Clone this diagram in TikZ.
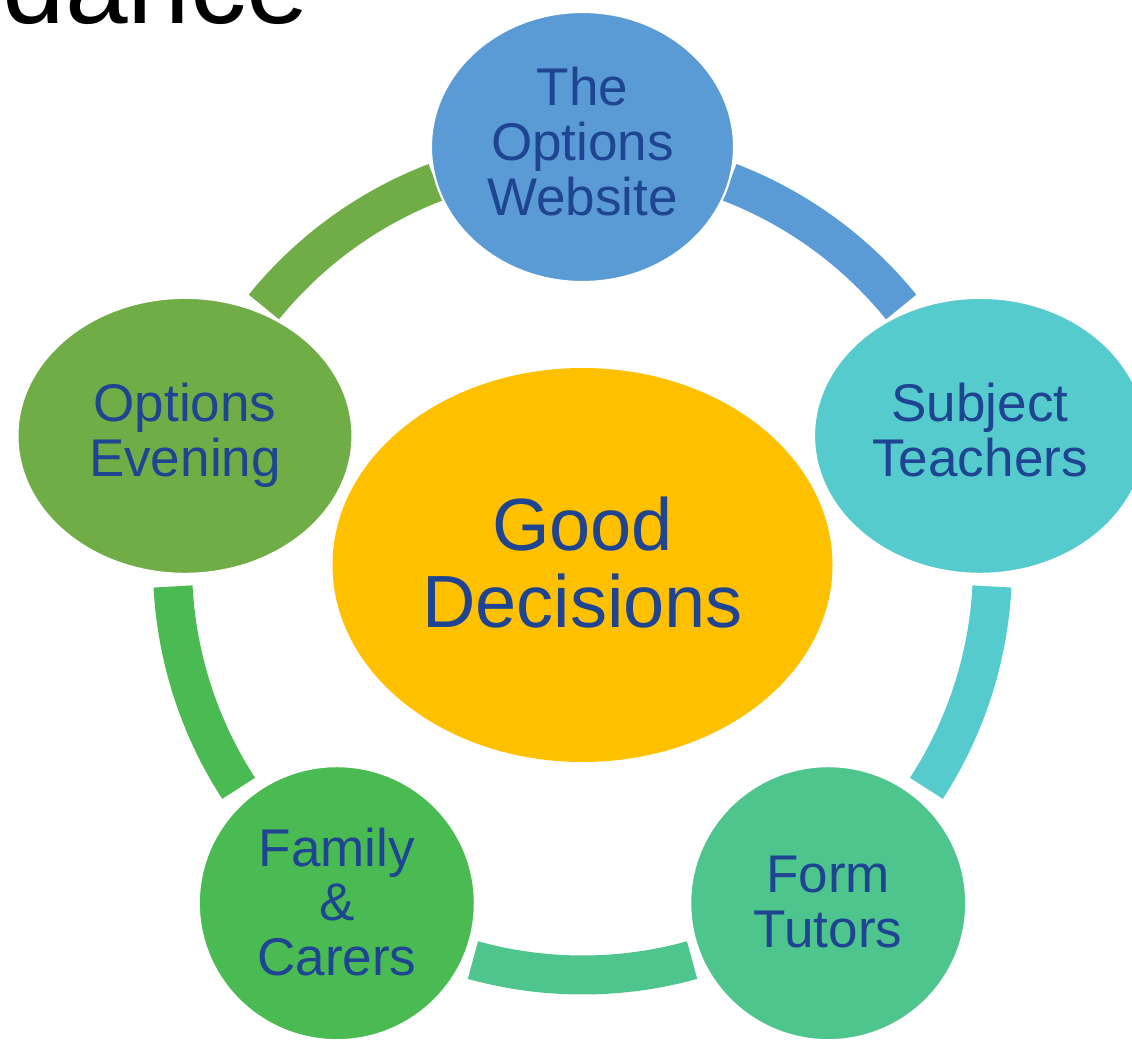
\documentclass[tikz,border=0pt]{standalone}
\usepackage{fontspec}
\setmainfont{Liberation Sans}
\usetikzlibrary{shapes.geometric,calc}
\definecolor{webc}{HTML}{5B9BD5}
\definecolor{subjc}{HTML}{55CBCD}
\definecolor{formc}{HTML}{4FC58E}
\definecolor{famc}{HTML}{4ABB52}
\definecolor{evec}{HTML}{70AD47}
\definecolor{goodc}{HTML}{FFC000}
\definecolor{txtc}{HTML}{1E4492}
\begin{document}
\begin{tikzpicture}[x=1cm,y=1cm,
  bubble/.style={ellipse, draw=white, line width=0.6pt, inner sep=0pt, text depth=0.12cm, text=txtc, align=center, font=\fontsize{15.1}{15.6}\selectfont},
  roundbubble/.style={bubble, text depth=0.03cm, minimum width=2.76cm, minimum height=2.74cm},
  ring/.style={line width=0.39cm}]
\useasboundingbox (0,0) rectangle (11.32,-10.42);
\clip (0,0) rectangle (11.32,-10.42);
\coordinate (c) at (5.825,-5.65);
\node[anchor=base east, inner sep=0pt, font=\fontsize{32}{38}\selectfont] (title) at (3.10,-0.23) {Guidance};
% ring segments
\draw[ring, webc]  (c) ++(69:4.10)   arc[start angle=69,   end angle=39,   radius=4.10];
\draw[ring, subjc] (c) ++(-3:4.10)   arc[start angle=-3,   end angle=-33,  radius=4.10];
\draw[ring, formc] (c) ++(-74.5:4.10)  arc[start angle=-74.5,  end angle=-105.5, radius=4.10];
\draw[ring, famc]  (c) ++(-147:4.10) arc[start angle=-147, end angle=-177, radius=4.10];
\draw[ring, evec]  (c) ++(141:4.10)  arc[start angle=141,  end angle=111,  radius=4.10];
% outer nodes
\node[bubble, fill=webc, minimum width=3.03cm, minimum height=2.70cm] (website) at ($(c)+(90:4.18)$) {The\\Options\\Website};
\node[bubble, fill=subjc, minimum width=3.32cm, minimum height=2.76cm] (subject) at ($(c)+(18:4.18)$) {Subject\\Teachers};
\node[roundbubble, fill=formc] (form) at ($(c)+(-54:4.18)$) {Form\\Tutors};
\node[roundbubble, fill=famc] (family) at ($(c)+(-126:4.18)$) {Family\\\&\\Carers};
\node[bubble, fill=evec, minimum width=3.35cm, minimum height=2.76cm] (evening) at ($(c)+(162:4.18)$) {Options\\Evening};
% centre
\node[ellipse, fill=goodc, inner sep=0pt, text depth=0.06cm, minimum width=5.0cm, minimum height=3.94cm, text=txtc, align=center, font=\fontsize{21.05}{21.9}\selectfont] (good) at (c) {Good\\Decisions};
\end{tikzpicture}
\end{document}
